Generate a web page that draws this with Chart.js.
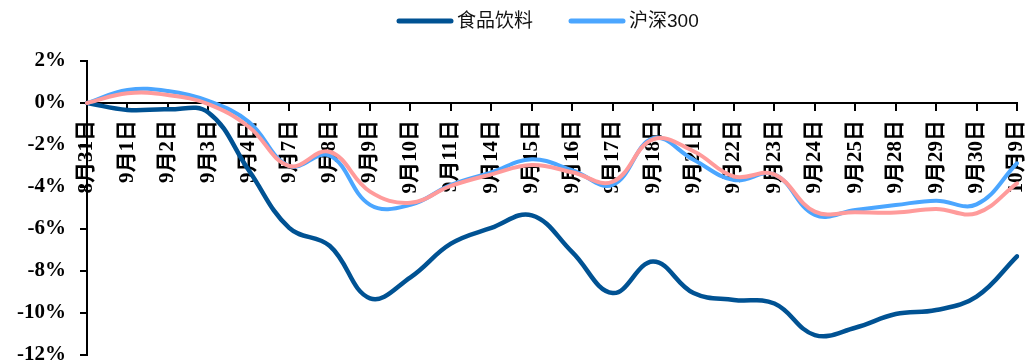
<!DOCTYPE html>
<html>
<head>
<meta charset="utf-8">
<script src="https://cdn.jsdelivr.net/npm/chart.js@4.4.1/dist/chart.umd.min.js"></script>
<style>
  html, body { margin: 0; padding: 0; background: #fff; }
  #wrap { width: 1027px; height: 364px; position: relative; }
</style>
</head>
<body>
<div id="wrap"><canvas id="c" width="1027" height="364"></canvas></div>
<script>
// Trading days
const categories = ['8月31日','9月1日','9月2日','9月3日','9月4日','9月7日','9月8日','9月9日','9月10日','9月11日','9月14日','9月15日','9月16日','9月17日','9月18日','9月21日','9月22日','9月23日','9月24日','9月25日','9月28日','9月29日','9月30日','10月9日'];

// Cumulative return since 8/31, %
const foodBeverage = [0, -0.33, -0.3, -0.45, -3.2, -5.95, -6.8, -9.3, -8.3, -6.7, -5.95, -5.35, -7.1, -9.05, -7.55, -9.05, -9.38, -9.55, -11.05, -10.7, -10.05, -9.86, -9.22, -7.3];
const csi300 = [0, 0.62, 0.57, 0.1, -0.9, -3.0, -2.5, -4.85, -4.85, -3.9, -3.3, -2.68, -3.2, -3.9, -1.68, -2.7, -3.67, -3.4, -5.33, -5.1, -4.86, -4.65, -4.83, -2.87];
const benchmark = [0, 0.46, 0.38, -0.05, -1.13, -3.0, -2.32, -4.22, -4.75, -3.95, -3.4, -2.95, -3.3, -3.75, -1.73, -2.3, -3.5, -3.4, -5.17, -5.2, -5.22, -5.05, -5.25, -3.83];

// Y axis ticks
const yTicks = [2, 0, -2, -4, -6, -8, -10, -12];

const COLORS = { food: '#005293', csi: '#4ba6ff', bench: '#ff9b9b' };

const legendItems = [
  { text: '食品饮料', color: COLORS.food },
  { text: '沪深300', color: COLORS.csi }
];

// Legend row at the top: line sample + label
const topLegend = {
  id: 'topLegend',
  afterDraw(chart) {
    const ctx = chart.ctx;
    ctx.save();
    ctx.font = '19px "Liberation Sans", "Noto Sans CJK SC", sans-serif';
    ctx.textBaseline = 'middle';
    ctx.textAlign = 'left';
    let x = 399;
    const y = 21;
    legendItems.forEach(item => {
      ctx.strokeStyle = item.color;
      ctx.lineWidth = 5;
      ctx.lineCap = 'round';
      ctx.beginPath();
      ctx.moveTo(x, y);
      ctx.lineTo(x + 52, y);
      ctx.stroke();
      ctx.fillStyle = '#111';
      ctx.fillText(item.text, x + 58, y + 1);
      x += 58 + ctx.measureText(item.text).width + 38;
    });
    ctx.restore();
  }
};

const axisFont = { family: '"Liberation Serif", "Noto Sans CJK SC", serif', weight: 'bold' };

new Chart(document.getElementById('c'), {
  type: 'line',
  data: {
    labels: categories,
    datasets: [
      { label: '沪深300', data: benchmark, borderColor: COLORS.bench, borderWidth: 4, order: 0 },
      { label: '沪深300', data: csi300, borderColor: COLORS.csi, borderWidth: 4, order: 1 },
      { label: '食品饮料', data: foodBeverage, borderColor: COLORS.food, borderWidth: 4.5, order: 2 }
    ]
  },
  options: {
    responsive: false,
    animation: false,
    layout: { padding: { top: 61, right: 10, bottom: 9, left: 0 } },
    elements: {
      line: { tension: 0.4, fill: false, borderCapStyle: 'round', borderJoinStyle: 'round' },
      point: { radius: 0, hoverRadius: 0 }
    },
    plugins: { legend: { display: false }, tooltip: { enabled: false } },
    scales: {
      x: {
        type: 'category',
        position: { y: 0 },
        offset: false,
        afterFit(scale) { scale.height = 0; scale.paddingLeft = 0; scale.paddingRight = 0; },
        grid: { drawOnChartArea: false, drawTicks: true, tickLength: 7, color: '#000', lineWidth: 2, offset: false },
        border: { display: true, color: '#000', width: 2 },
        ticks: {
          autoSkip: false, minRotation: 90, maxRotation: 90, padding: 10,
          color: '#000', font: { ...axisFont, size: 21 }
        }
      },
      y: {
        min: -12, max: 2,
        afterBuildTicks(scale) { scale.ticks = yTicks.map(v => ({ value: v })); },
        afterFit(scale) { scale.width = 87; scale.paddingTop = 0; scale.paddingBottom = 0; },
        grid: { drawOnChartArea: false, drawTicks: true, tickLength: 7, color: '#000', lineWidth: 2 },
        border: { display: true, color: '#000', width: 2 },
        ticks: {
          padding: 14, color: '#000', font: { ...axisFont, size: 21 },
          callback: v => v + '%'
        }
      }
    }
  },
  plugins: [topLegend]
});
</script>
</body>
</html>
